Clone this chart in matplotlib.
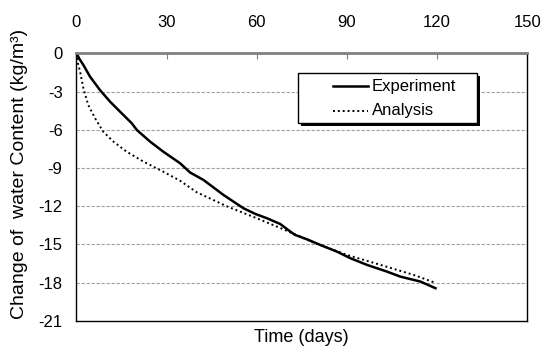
import matplotlib
matplotlib.use("Agg")
import matplotlib.pyplot as plt
from matplotlib.patches import Rectangle
from matplotlib.lines import Line2D

plt.rcParams['font.family'] = ['Liberation Sans', 'DejaVu Sans']
plt.rcParams['axes.unicode_minus'] = False

# experiment (days, change of water content)
exp_days = [0, 1, 2.3, 4.5, 7.8, 11.2, 14.5, 18.4, 20.1, 24.5, 28.9, 34.5, 37.8,
            42.3, 48.9, 55.6, 59.5, 63.4, 67.8, 71.2, 72.8, 76.7, 81.2, 86.7,
            91.2, 96.7, 103.4, 107.8, 114.5, 119.5]
exp_vals = [0, -0.45, -0.92, -1.83, -2.88, -3.8, -4.58, -5.49, -6.02, -6.93, -7.72,
            -8.63, -9.35, -9.94, -11.11, -12.16, -12.6, -12.94, -13.39, -13.99,
            -14.25, -14.59, -15.04, -15.56, -16.08, -16.6, -17.13, -17.52, -17.91,
            -18.43]

# analysis
ana_days = [0, 0.5, 1.2, 2.3, 3.9, 6.2, 8.9, 12.3, 16.7, 22.3, 28.9, 34.5, 40,
            50, 60, 67.8, 71.2, 78.9, 90.1, 101.2, 112.3, 118.9]
ana_vals = [0, -0.8, -1.44, -2.75, -4.05, -5.1, -6.15, -6.93, -7.72, -8.5, -9.29,
            -10.0, -10.9, -12.0, -12.94, -13.7, -14.05, -14.85, -15.82, -16.6,
            -17.39, -17.96]

xticks = [0, 30, 60, 90, 120, 150]
yticks = [0, -3, -6, -9, -12, -15, -18, -21]
names = ['Experiment', 'Analysis']

W, H = 544, 346
fig = plt.figure(figsize=(5.44, 3.46), dpi=100)
ax = fig.add_axes([0.1406, 0.0723, 0.8284, 0.7737])

for v in yticks[1:-1]:
    ax.axhline(v, color='#a0a0a0', lw=0.8, ls=(0, (3, 1.5)), zorder=1)

ax.plot(exp_days, exp_vals, color='black', lw=1.8, zorder=3)
ax.plot(ana_days, ana_vals, color='black', lw=1.4, ls=(0, (1, 1.5)), zorder=3)

ax.set_xlim(0, 150)
ax.set_ylim(-21, 0)
ax.set_xticks(xticks)
ax.set_yticks(yticks)
ax.xaxis.tick_top()
ax.tick_params(axis='x', direction='in', length=4, color='#808080', pad=17, labelsize=12)
ax.tick_params(axis='y', length=0, pad=10, labelsize=12)

for s in ['left', 'right', 'bottom']:
    ax.spines[s].set_color('black')
    ax.spines[s].set_linewidth(1.0)
ax.spines['top'].set_color('#808080')
ax.spines['top'].set_linewidth(2.0)
ax.spines['top'].set_zorder(4)

ax.set_xlabel('Time (days)', fontsize=13, labelpad=6)
ax.set_ylabel('Change of  water Content (kg/m³)', fontsize=14)
ax.yaxis.set_label_coords(-0.108, 0.551)

# legend box drawn by hand (pixel positions from the top-left corner)
def fx(px):
    return px / W

def fy(py):
    return 1 - py / H

shadow = Rectangle((fx(301), fy(126)), fx(477 - 298), (123 - 73) / H,
                   transform=fig.transFigure, facecolor='black', edgecolor='black', lw=0, zorder=5)
box = Rectangle((fx(298), fy(123)), fx(477 - 298), (123 - 73) / H,
                transform=fig.transFigure, facecolor='white', edgecolor='black', lw=1.0, zorder=6)
fig.add_artist(shadow)
fig.add_artist(box)
styles = [dict(lw=1.8, ls='-'), dict(lw=1.4, ls=(0, (1, 1.5)))]
for name, st, py in zip(names, styles, [86, 111]):
    fig.add_artist(Line2D([fx(333), fx(368)], [fy(py), fy(py)], transform=fig.transFigure,
                          color='black', zorder=7, **st))
    fig.text(fx(372), fy(py), name, fontsize=12, va='center', ha='left', zorder=7)

fig.savefig('out.png', dpi=100)
